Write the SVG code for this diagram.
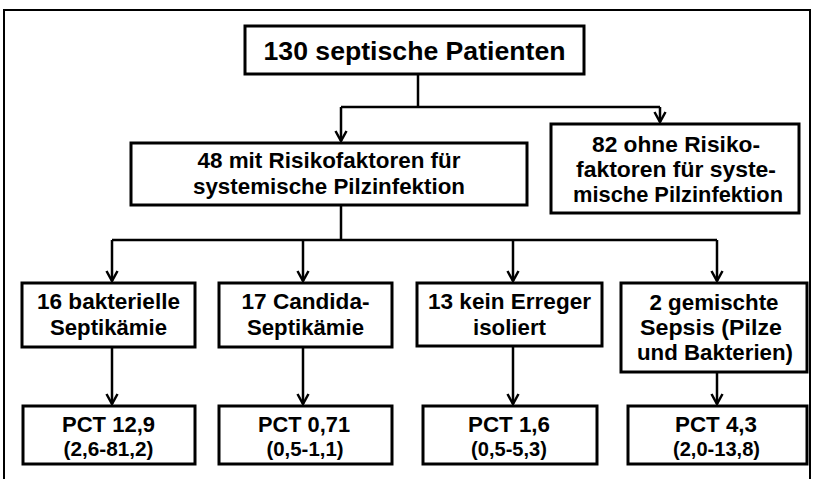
<svg xmlns="http://www.w3.org/2000/svg" width="816" height="479" viewBox="0 0 816 479">
<defs>
<style>
.bx{fill:#fff;stroke:#000;stroke-width:3}
.t{font-family:"Liberation Sans",Arial,sans-serif;font-weight:bold;fill:#000;text-anchor:middle;font-size:22.5px}
.big{font-size:25px}
.sm{font-size:19.5px}
.ln{fill:none;stroke:#000;stroke-width:2.5}
.ar{fill:none;stroke:#000;stroke-width:2.5;marker-end:url(#ah)}
</style>
<marker id="ah" markerUnits="userSpaceOnUse" markerWidth="14" markerHeight="14" viewBox="0 0 14 14" refX="12" refY="7" orient="auto">
<path d="M2,1.5 L12,7 L2,12.5" fill="none" stroke="#000" stroke-width="2.5"/>
</marker>
</defs>
<rect x="0" y="0" width="816" height="479" fill="#fff"/>
<path d="M4,479 V10 H810 V479" fill="none" stroke="#000" stroke-width="2"/>
<g id="connectors">
<path class="ln" d="M418,74 V107"/>
<path class="ln" d="M341,107 H660"/>
<path class="ar" d="M341,107 V141"/>
<path class="ar" d="M660,107 V122"/>
<path class="ln" d="M341,205 V240"/>
<path class="ln" d="M112,240 H717"/>
<path class="ar" d="M112,240 V281"/>
<path class="ar" d="M303,240 V281"/>
<path class="ar" d="M513,240 V281"/>
<path class="ar" d="M717,240 V281"/>
<path class="ar" d="M112,347 V404"/>
<path class="ar" d="M303,347 V404"/>
<path class="ar" d="M513,347 V404"/>
<path class="ar" d="M717,372 V404"/>
</g>
<g id="n_top">
<rect class="bx" x="245" y="26" width="339" height="48"/>
<text class="t big" x="414.5" y="60" textLength="302" lengthAdjust="spacingAndGlyphs">130 septische Patienten</text>
</g>
<g id="n_mit">
<rect class="bx" x="131" y="143" width="396" height="62"/>
<text class="t" x="329" y="168" textLength="263" lengthAdjust="spacingAndGlyphs">48 mit Risikofaktoren für</text>
<text class="t" x="329" y="194" textLength="272" lengthAdjust="spacingAndGlyphs">systemische Pilzinfektion</text>
</g>
<g id="n_ohne">
<rect class="bx" x="551" y="124" width="248" height="89"/>
<text class="t" x="676" y="152" textLength="168" lengthAdjust="spacingAndGlyphs">82 ohne Risiko-</text>
<text class="t" x="676" y="177" textLength="200" lengthAdjust="spacingAndGlyphs">faktoren für syste-</text>
<text class="t" x="678" y="202" textLength="210" lengthAdjust="spacingAndGlyphs">mische Pilzinfektion</text>
</g>
<g id="n_bakt">
<rect class="bx" x="22" y="283" width="173" height="64"/>
<text class="t" x="108.5" y="309" textLength="143" lengthAdjust="spacingAndGlyphs">16 bakterielle</text>
<text class="t" x="108.5" y="335" textLength="117" lengthAdjust="spacingAndGlyphs">Septikämie</text>
</g>
<g id="n_cand">
<rect class="bx" x="219" y="283" width="173" height="64"/>
<text class="t" x="305.5" y="309" textLength="128" lengthAdjust="spacingAndGlyphs">17 Candida-</text>
<text class="t" x="305.5" y="335" textLength="117" lengthAdjust="spacingAndGlyphs">Septikämie</text>
</g>
<g id="n_kein">
<rect class="bx" x="417" y="283" width="185" height="63"/>
<text class="t" x="509.5" y="309" textLength="163" lengthAdjust="spacingAndGlyphs">13 kein Erreger</text>
<text class="t" x="509.5" y="335" textLength="73" lengthAdjust="spacingAndGlyphs">isoliert</text>
</g>
<g id="n_gem">
<rect class="bx" x="621" y="283" width="186" height="89"/>
<text class="t" x="714" y="310" textLength="129" lengthAdjust="spacingAndGlyphs">2 gemischte</text>
<text class="t" x="711" y="335" textLength="142" lengthAdjust="spacingAndGlyphs">Sepsis (Pilze</text>
<text class="t" x="715" y="360" textLength="156" lengthAdjust="spacingAndGlyphs">und Bakterien)</text>
</g>
<g id="n_pct1">
<rect class="bx" x="23" y="406" width="172" height="58"/>
<text class="t" x="108.5" y="432" textLength="93" lengthAdjust="spacingAndGlyphs">PCT 12,9</text>
<text class="t sm" x="108.5" y="456" textLength="90" lengthAdjust="spacingAndGlyphs">(2,6-81,2)</text>
</g>
<g id="n_pct2">
<rect class="bx" x="219" y="406" width="173" height="58"/>
<text class="t" x="304" y="432" textLength="92" lengthAdjust="spacingAndGlyphs">PCT 0,71</text>
<text class="t sm" x="305" y="456" textLength="77" lengthAdjust="spacingAndGlyphs">(0,5-1,1)</text>
</g>
<g id="n_pct3">
<rect class="bx" x="423" y="406" width="174" height="58"/>
<text class="t" x="509" y="432" textLength="82" lengthAdjust="spacingAndGlyphs">PCT 1,6</text>
<text class="t sm" x="509" y="456" textLength="76" lengthAdjust="spacingAndGlyphs">(0,5-5,3)</text>
</g>
<g id="n_pct4">
<rect class="bx" x="628" y="406" width="179" height="58"/>
<text class="t" x="716" y="432" textLength="82" lengthAdjust="spacingAndGlyphs">PCT 4,3</text>
<text class="t sm" x="716.5" y="456" textLength="87" lengthAdjust="spacingAndGlyphs">(2,0-13,8)</text>
</g>
</svg>
